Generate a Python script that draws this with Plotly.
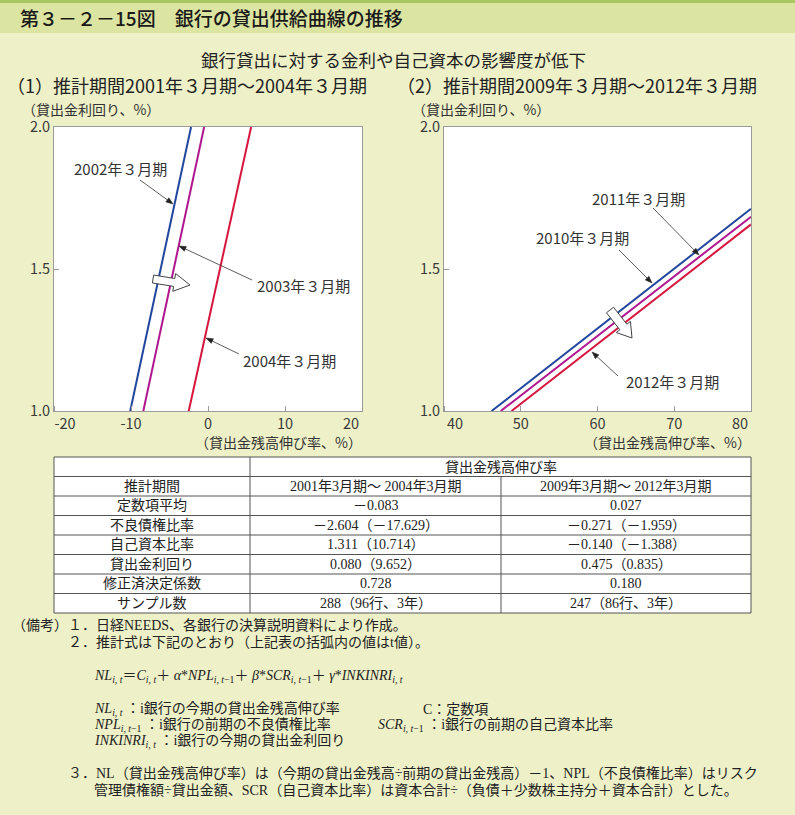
import math
import plotly.graph_objects as go

W, H = 795, 815

# ---------------- data ----------------
y_ticks = [1.0, 1.5, 2.0]
y_ticktext = ["1.0", "1.5", "2.0"]

left_x_ticks = [-20, -10, 0, 10, 20]
left_x_ticktext = ["-20", "-10", "0", "10", "20"]
left_labels = ["2002年３月期", "2003年３月期", "2004年３月期"]
left_x_2002 = [-10.1, -2.2]
left_x_2003 = [-8.4, -0.5]
left_x_2004 = [-2.5, 5.6]
left_y = [1.0, 2.0]

right_x_ticks = [40, 50, 60, 70, 80]
right_x_ticktext = ["40", "50", "60", "70", "80"]
right_labels = ["2010年３月期", "2011年３月期", "2012年３月期"]
right_x_2010 = [46.2, 80.0]
right_y_2010 = [1.0, 1.712]
right_x_2011 = [47.4, 80.0]
right_y_2011 = [1.0, 1.684]
right_x_2012 = [48.8, 80.0]
right_y_2012 = [1.0, 1.657]

table_group_header = "貸出金残高伸び率"
table_row_labels = ["推計期間", "定数項平均", "不良債権比率", "自己資本比率",
                    "貸出金利回り", "修正済決定係数", "サンプル数"]
table_col_1 = ["2001年3月期～ 2004年3月期", "－0.083", "－2.604（－17.629）",
               "1.311（10.714）", "0.080（9.652）", "0.728", "288（96行、3年）"]
table_col_2 = ["2009年3月期～ 2012年3月期", "0.027", "－0.271（－1.959）",
               "－0.140（－1.388）", "0.475（0.835）", "0.180", "247（86行、3年）"]

# ---------------- styling ----------------
BLUE = "#22469E"
PURPLE = "#B0178E"
RED = "#D6163E"
SANS = "Noto Sans CJK JP, Noto Sans, sans-serif"
SERIF = "Liberation Serif, Noto Sans CJK JP, serif"
BG = "#EEF1C8"
BAND = "#DBE5A1"


def px(x):
    return x / W


def py(y):
    return 1 - y / H


annotations = []
shapes = []


def text(s, x, y, size, xanchor="left", family=SANS, color="#222", weight=None):
    f = dict(family=family, size=size, color=color)
    if weight is not None:
        f["weight"] = weight
    annotations.append(dict(text=s, x=px(x), y=py(y), xref="paper", yref="paper",
                            xanchor=xanchor, yanchor="middle", showarrow=False,
                            font=f))


def poly(pts, fill, line_color, width):
    path = "M " + " L ".join(f"{px(a):.5f},{py(b):.5f}" for a, b in pts) + " Z"
    shapes.append(dict(type="path", path=path, xref="paper", yref="paper",
                       fillcolor=fill, line=dict(color=line_color, width=width), layer="above"))


def pointer(tip, tail, head_len=7, head_hw=2.6):
    dx, dy = tip[0] - tail[0], tip[1] - tail[1]
    L = math.hypot(dx, dy)
    ux, uy = dx / L, dy / L
    nx, ny = -uy, ux
    bx, by = tip[0] - ux * head_len, tip[1] - uy * head_len
    shapes.append(dict(type="line", xref="paper", yref="paper",
                       x0=px(tail[0]), y0=py(tail[1]), x1=px(bx + ux), y1=py(by + uy),
                       line=dict(color="#333", width=0.8), layer="above"))
    poly([tip, (bx + nx * head_hw, by + ny * head_hw), (bx - nx * head_hw, by - ny * head_hw)],
         "#222", "#222", 0.5)


def block_arrow(start, end, shaft_hw, head_hw, head_len):
    dx, dy = end[0] - start[0], end[1] - start[1]
    L = math.hypot(dx, dy)
    ux, uy = dx / L, dy / L
    nx, ny = -uy, ux
    bx, by = end[0] - ux * head_len, end[1] - uy * head_len
    pts = [
        (start[0] + nx * shaft_hw, start[1] + ny * shaft_hw),
        (bx + nx * shaft_hw, by + ny * shaft_hw),
        (bx + nx * head_hw, by + ny * head_hw),
        end,
        (bx - nx * head_hw, by - ny * head_hw),
        (bx - nx * shaft_hw, by - ny * shaft_hw),
        (start[0] - nx * shaft_hw, start[1] - ny * shaft_hw),
    ]
    poly(pts, "white", "#444", 1)


# ---------------- traces ----------------
fig = go.Figure()
for xs, c in [(left_x_2002, BLUE), (left_x_2003, PURPLE), (left_x_2004, RED)]:
    fig.add_trace(go.Scatter(x=xs, y=left_y, mode="lines", line=dict(color=c, width=2),
                             xaxis="x", yaxis="y", showlegend=False, hoverinfo="skip"))
for xs, ys, c in [(right_x_2010, right_y_2010, BLUE), (right_x_2011, right_y_2011, PURPLE),
                  (right_x_2012, right_y_2012, RED)]:
    fig.add_trace(go.Scatter(x=xs, y=ys, mode="lines", line=dict(color=c, width=2),
                             xaxis="x2", yaxis="y2", showlegend=False, hoverinfo="skip"))

# ---------------- header ----------------
shapes.append(dict(type="rect", xref="paper", yref="paper", x0=0, x1=1, y0=py(33), y1=1,
                   fillcolor=BAND, line=dict(width=0), layer="below"))
shapes.append(dict(type="rect", xref="paper", yref="paper", x0=0, x1=1, y0=py(3), y1=1,
                   fillcolor="#A9C75E", line=dict(width=0), layer="below"))
text("第３－２－15図　銀行の貸出供給曲線の推移", 18, 18, 19, weight=500, color="#1a1a1a")
text("銀行貸出に対する金利や自己資本の影響度が低下", 393, 59, 17.5, xanchor="center")
text("（1）推計期間2001年３月期～2004年３月期", 5, 85, 18)
text("（2）推計期間2009年３月期～2012年３月期", 395, 85, 18)

# axis titles
text("（貸出金利回り、%）", 20, 108.5, 14, color="#333")
text("（貸出金利回り、%）", 410, 108.5, 14, color="#333")
text("（貸出金残高伸び率、%）", 364, 442, 14, xanchor="right", color="#333")
text("（貸出金残高伸び率、%）", 753, 442, 14, xanchor="right", color="#333")

# series labels + pointers (left)
text(left_labels[0], 120, 168, 15, xanchor="center", color="#333")
pointer((173, 204), (140, 180))
text(left_labels[1], 303, 285, 15, xanchor="center", color="#333")
pointer((179, 246), (252, 280))
text(left_labels[2], 289, 360, 15, xanchor="center", color="#333")
pointer((206, 338), (239, 354))
block_arrow((153, 279), (190, 285), 4, 9, 16)

# series labels + pointers (right)
text(right_labels[1], 638, 198, 15, xanchor="center", color="#333")
pointer((699, 255), (653, 208))
text(right_labels[0], 582, 238, 15, xanchor="center", color="#333")
pointer((652, 283), (619, 250))
text(right_labels[2], 672, 382, 15, xanchor="center", color="#333")
pointer((592, 352), (618, 376))
block_arrow((610, 310), (632, 338), 4.5, 9, 14)

# ---------------- table ----------------
cols = [54, 250, 501, 751]
t_top = 457
rh = 19.5
n_rows = 1 + len(table_row_labels)
t_bot = t_top + rh * n_rows
shapes.append(dict(type="rect", xref="paper", yref="paper", x0=px(cols[0]), x1=px(cols[3]),
                   y0=py(t_bot), y1=py(t_top), fillcolor="white",
                   line=dict(color="#555", width=1), layer="below"))
for i in range(1, n_rows):
    yy = t_top + rh * i
    shapes.append(dict(type="line", xref="paper", yref="paper", x0=px(cols[0]), x1=px(cols[3]),
                       y0=py(yy), y1=py(yy), line=dict(color="#555", width=1)))
shapes.append(dict(type="line", xref="paper", yref="paper", x0=px(cols[1]), x1=px(cols[1]),
                   y0=py(t_top), y1=py(t_bot), line=dict(color="#555", width=1)))
shapes.append(dict(type="line", xref="paper", yref="paper", x0=px(cols[2]), x1=px(cols[2]),
                   y0=py(t_top + rh), y1=py(t_bot), line=dict(color="#555", width=1)))


def rc(i):
    return t_top + rh * (i + 0.5)


text(table_group_header, (cols[1] + cols[3]) / 2, rc(0), 14, xanchor="center", family=SERIF)
for i, (lab, v1, v2) in enumerate(zip(table_row_labels, table_col_1, table_col_2)):
    text(lab, (cols[0] + cols[1]) / 2, rc(i + 1), 14, xanchor="center", family=SERIF)
    text(v1, (cols[1] + cols[2]) / 2, rc(i + 1), 14, xanchor="center", family=SERIF)
    text(v2, (cols[2] + cols[3]) / 2, rc(i + 1), 14, xanchor="center", family=SERIF)

# ---------------- notes ----------------
NS = 14
text("（備考）", 10, 625, NS, family=SERIF)
text("１．日経NEEDS、各銀行の決算説明資料により作成。", 66, 625, NS, family=SERIF)
text("２．推計式は下記のとおり（上記表の括弧内の値はt値）。", 66, 642, NS, family=SERIF)
eq = ("<i>NL</i><sub><i>i, t</i></sub>＝<i>C</i><sub><i>i, t</i></sub>＋ "
      "<i>α</i>*<i>NPL</i><sub><i>i, t</i>−1</sub>＋ "
      "<i>β</i>*<i>SCR</i><sub><i>i, t</i>−1</sub>＋ "
      "<i>γ</i>*<i>INKINRI</i><sub><i>i, t</i></sub>")
text(eq, 92, 676, NS, family=SERIF)
text("<i>NL</i><sub><i>i, t</i></sub> ：i銀行の今期の貸出金残高伸び率", 92, 709, NS, family=SERIF)
text("C：定数項", 421, 709, NS, family=SERIF)
text("<i>NPL</i><sub><i>i, t</i>−1</sub> ：i銀行の前期の不良債権比率", 92, 725, NS, family=SERIF)
text("<i>SCR</i><sub><i>i, t</i>−1</sub> ：i銀行の前期の自己資本比率", 376, 725, NS, family=SERIF)
text("<i>INKINRI</i><sub><i>i, t</i></sub> ：i銀行の今期の貸出金利回り", 92, 741, NS, family=SERIF)
text("３．NL（貸出金残高伸び率）は（今期の貸出金残高÷前期の貸出金残高）－1、NPL（不良債権比率）はリスク",
     66, 773, NS, family=SERIF)
text("管理債権額÷貸出金額、SCR（自己資本比率）は資本合計÷（負債＋少数株主持分＋資本合計）とした。",
     92, 790, NS, family=SERIF)

# ---------------- layout ----------------
TICKC = "#9a9a9a"
axis_common = dict(showgrid=False, zeroline=False, showline=True, mirror=True,
                   linecolor=TICKC, linewidth=1, automargin=False,
                   tickfont=dict(family=SANS, size=14.5, color="#3a3a3a"))


def x_axis(dom_px, ticks, ticktext, anchor):
    lo, hi = ticks[0], ticks[-1]
    per_px = (hi - lo) / (dom_px[1] - dom_px[0])
    inset = 11 * per_px  # end labels sit just inside the frame, as in the reference
    label_pos = [lo + inset] + ticks[1:-1] + [hi - inset]
    return dict(domain=[px(dom_px[0]), px(dom_px[1])], range=[lo, hi],
                tickmode="array", tickvals=label_pos, ticktext=ticktext, ticks="",
                minor=dict(tickmode="array", tickvals=ticks, ticks="inside", ticklen=5,
                           tickcolor=TICKC, showgrid=False),
                anchor=anchor, **axis_common)


ydom = [py(411), py(127)]
y_common = dict(domain=ydom, range=[1, 2], tickvals=y_ticks, ticktext=y_ticktext,
                ticks="inside", ticklen=5, tickcolor=TICKC, **axis_common)
fig.update_layout(
    width=W, height=H, margin=dict(l=0, r=0, t=0, b=0, pad=0, autoexpand=False),
    paper_bgcolor=BG, plot_bgcolor="white", showlegend=False,
    xaxis=x_axis((54, 362), left_x_ticks, left_x_ticktext, "y"),
    yaxis=dict(anchor="x", **y_common),
    xaxis2=x_axis((444, 751), right_x_ticks, right_x_ticktext, "y2"),
    yaxis2=dict(anchor="x2", **y_common),
    annotations=annotations,
    shapes=shapes,
)

fig.write_html("out.html", config={"displayModeBar": False},
               post_script="document.body.style.margin='0';"
                           "document.body.style.background='" + BG + "';")
